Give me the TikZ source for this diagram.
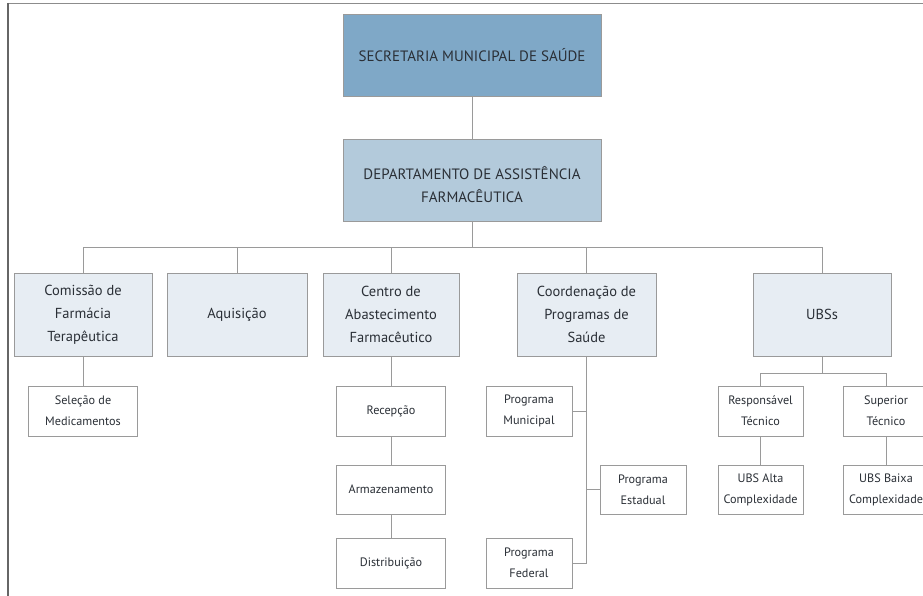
\documentclass[tikz,border=0pt]{standalone}
\usepackage{fontspec}
\setmainfont{PT Sans}
\usetikzlibrary{positioning}

\definecolor{topblue}{HTML}{7FA8C7}
\definecolor{midblue}{HTML}{B3CADB}
\definecolor{paleblue}{HTML}{E7EDF3}
\definecolor{boxline}{HTML}{9A9A9A}
\definecolor{inktext}{HTML}{2A2F36}

\begin{document}
\begin{tikzpicture}[x=1pt,y=-1pt,
  orgbox/.style={draw=boxline,line width=0.9pt,align=center,inner sep=2pt,text=inktext},
  headbox/.style={orgbox,fill=topblue,minimum width=258pt,minimum height=82pt,
    font=\fontsize{15}{23}\selectfont},
  deptbox/.style={orgbox,fill=midblue,minimum width=258pt,minimum height=82pt,
    font=\fontsize{15}{23}\selectfont},
  unitbox/.style={orgbox,fill=paleblue,minimum width=138pt,minimum height=83pt,
    font=\fontsize{14.5}{23}\selectfont},
  leafbox/.style={orgbox,fill=white,minimum width=109pt,minimum height=50pt,
    font=\fontsize{12.2}{21}\selectfont},
  smallleaf/.style={leafbox,minimum width=86pt},
  link/.style={draw=boxline,line width=0.9pt}]

\useasboundingbox (0,0) rectangle (923,596);
\fill[white] (0,0) rectangle (923,596);

% moldura
\draw[black!45,line width=0.8pt] (7,3.5) -- (923,3.5);
\draw[black!60,line width=2pt] (8,3) -- (8,596);

% topo
\node[headbox] (sms) at (472,55) {SECRETARIA MUNICIPAL DE SAÚDE};
\node[deptbox,label={[align=center,text=inktext,font=\fontsize{15}{23}\selectfont,yshift=-5pt]center:DEPARTAMENTO DE ASSISTÊNCIA\\FARMACÊUTICA}] (daf) at (472,180) {};

% segundo nível
\node[unitbox] (cft) at (83,314.5) {Comissão de\\Farmácia\\Terapêutica};
\node[unitbox,minimum width=140pt] (aqu) at (237,314.5) {Aquisição};
\node[unitbox,minimum width=136pt] (caf) at (391,314.5) {Centro de\\Abastecimento\\Farmacêutico};
\node[unitbox,minimum width=139pt] (cps) at (586.5,314.5) {Coordenação de\\Programas de\\Saúde};
\node[unitbox] (ubs) at (822,314.5) {UBSs};

% terceiro nível
\node[leafbox] (sel) at (83,411) {Seleção de\\Medicamentos};
\node[leafbox] (rec) at (391,411) {Recepção};
\node[leafbox,minimum height=49pt] (arm) at (391,489.5) {Armazenamento};
\node[leafbox] (dis) at (391,563) {Distribuição};

\node[smallleaf] (pmu) at (529,411) {Programa\\Municipal};
\node[smallleaf,minimum height=49pt] (pes) at (643,489.5) {Programa\\Estadual};
\node[smallleaf] (pfe) at (529,563) {Programa\\Federal};

\node[smallleaf,minimum width=85pt] (rtc) at (760.5,411) {Responsável\\Técnico};
\node[smallleaf] (stc) at (886,411) {Superior\\Técnico};
\node[smallleaf,minimum width=85pt,minimum height=49pt] (alta) at (760.5,489.5) {UBS Alta\\Complexidade};
\node[smallleaf,minimum height=49pt] (baixa) at (886,489.5) {UBS Baixa\\Complexidade};

% ligações
\coordinate (bus) at (472,247);
\coordinate (cpsend) at (586.5,563);
\coordinate (ubsbus) at (822,373);

\draw[link] (sms) -- (daf);
\draw[link] (daf) -- (bus);
\draw[link] (bus -| cft) -- (bus -| ubs);
\foreach \n in {cft,aqu,caf,cps,ubs}
  \draw[link] (bus -| \n) -- (\n.north);

\draw[link] (cft) -- (sel);
\draw[link] (caf) -- (rec);
\draw[link] (rec) -- (arm);
\draw[link] (arm) -- (dis);

\draw[link] (cps.south) -- (cpsend);
\draw[link] (pmu.east) -- (pmu.east -| cpsend);
\draw[link] (pes.west) -- (pes.west -| cpsend);
\draw[link] (pfe.east) -- (cpsend);

\draw[link] (ubs.south) -- (ubsbus);
\draw[link] (ubsbus -| rtc) -- (ubsbus -| stc);
\draw[link] (ubsbus -| rtc) -- (rtc.north);
\draw[link] (ubsbus -| stc) -- (stc.north);
\draw[link] (rtc) -- (alta);
\draw[link] (stc) -- (baixa);

\end{tikzpicture}
\end{document}
